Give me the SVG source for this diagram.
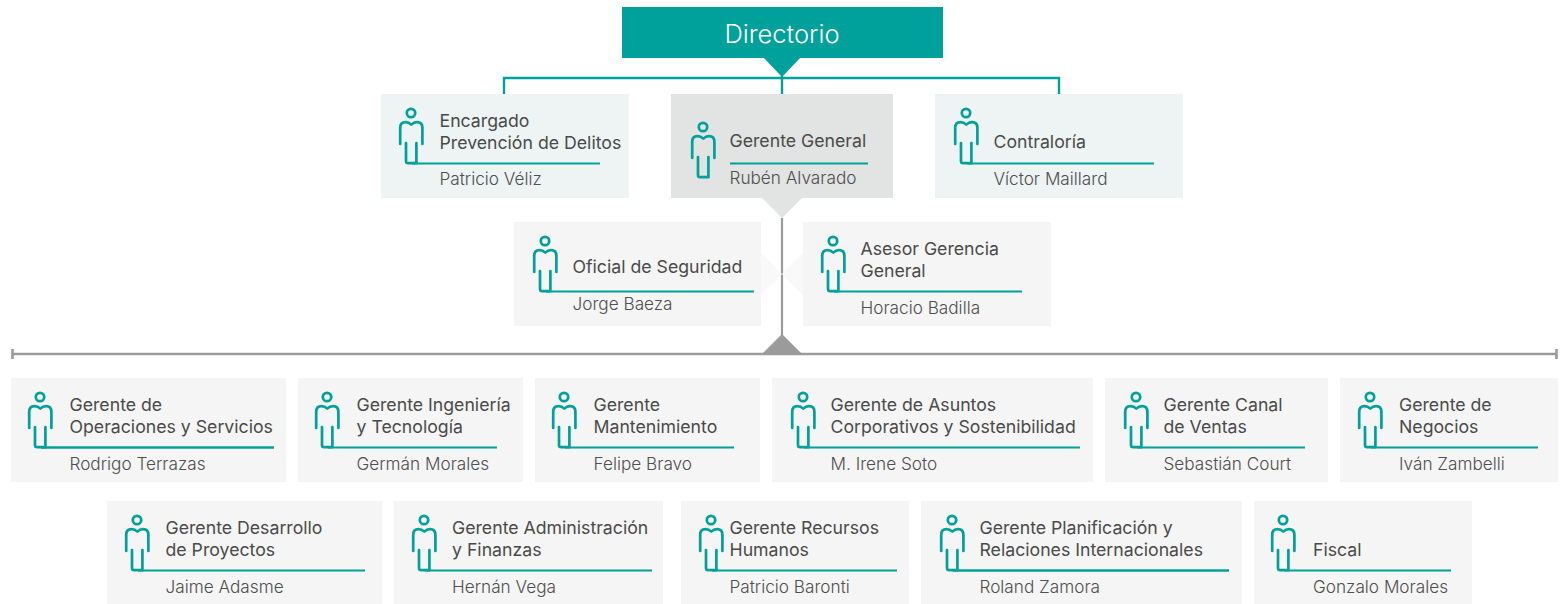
<svg xmlns="http://www.w3.org/2000/svg" xmlns:xlink="http://www.w3.org/1999/xlink" width="1562" height="604" viewBox="0 0 1562 604">
<style>
text{font-family:"Inter","Liberation Sans",Arial,sans-serif;font-size:17.7px;fill:#4a4a4a;font-weight:400}
.name{fill:#4f4f4f;font-size:17.2px;font-weight:300}
.dir{fill:#ffffff;font-size:25.5px;font-weight:300;text-anchor:middle}
.g{fill:#f5f5f5}.t{fill:#edf4f3}.m{fill:#e2e3e3}.f{fill:#f9f9f9}
.rule{stroke:#00a19a;stroke-width:2;fill:none}
.rule2{stroke:#00a19a;stroke-width:2.6;fill:none}
.teal{stroke:#00a19a;stroke-width:2.4;fill:none}
.grey{stroke:#9b9b9b;stroke-width:2.6;fill:none}
.greyv{stroke:#9b9b9b;stroke-width:2.2;fill:none}
.ic{stroke:#00a19a;stroke-width:2.7;fill:none;stroke-linecap:round;stroke-linejoin:round}
</style>
<defs>
<g id="person" class="ic">
<circle cx="0" cy="0" r="4.2"/>
<path d="M-10.8,31 V15 Q-10.8,9.2 -5.5,9.2 Q-2.2,9.2 0.3,11.6 Q2.8,9.2 6,9.2 Q11.4,9.2 11.4,15 V31"/>
<path d="M-5,30 V48 Q-5,50.2 -2.8,50.2 H5.4 V30"/>
</g>
</defs>
<g id="connectors">
<path class="teal" d="M504,94 V78 H1059 V94 M782,76 V94"/>
<path class="greyv" d="M782,218 V336"/>
<path class="grey" d="M12,354 H1557 M12.5,349 V359 M1556.5,349 V359"/>
<polygon fill="#9b9b9b" points="762,354 782,334 802,354"/>
</g>
<g id="directorio">
<rect x="622" y="7" width="321" height="51" fill="#00a19a"/>
<polygon fill="#00a19a" points="763,57 801,57 782,77"/>
<text class="dir" x="782" y="43">Directorio</text>
</g>
<g id="n-encargado"><rect class="t" x="381" y="94" width="248" height="104"/><use xlink:href="#person" x="411" y="113"/><path class="rule" d="M412,163.5H600"/><text x="439.5" y="127">Encargado</text><text x="439.5" y="149">Prevención de Delitos</text><text class="name" x="439.5" y="185">Patricio Véliz</text></g>
<g id="n-gerente-general"><rect class="m" x="671" y="94" width="222" height="104"/><polygon class="m" points="762,198 802,198 782,218"/><use xlink:href="#person" x="703" y="127"/><path class="rule" d="M730,163.5H868"/><text x="729.5" y="147">Gerente General</text><text class="name" x="729.5" y="184">Rubén Alvarado</text></g>
<g id="n-contraloria"><rect class="t" x="935" y="94" width="248" height="104"/><use xlink:href="#person" x="966" y="113"/><path class="rule" d="M967,163.5H1154"/><text x="993.5" y="148">Contraloría</text><text class="name" x="993.5" y="185">Víctor Maillard</text></g>
<g id="n-oficial"><rect class="g" x="514" y="222" width="247" height="104"/><polygon class="f" points="761,253 782,274 761,295"/><use xlink:href="#person" x="545" y="241"/><path class="rule" d="M546,291.5H754"/><text x="572.5" y="273">Oficial de Seguridad</text><text class="name" x="572.5" y="310">Jorge Baeza</text></g>
<g id="n-asesor"><rect class="g" x="803" y="222" width="248" height="104"/><polygon class="f" points="803,253 782,274 803,295"/><use xlink:href="#person" x="833" y="241"/><path class="rule" d="M834,291.5H1022"/><text x="860.5" y="255">Asesor Gerencia</text><text x="860.5" y="277">General</text><text class="name" x="860.5" y="314">Horacio Badilla</text></g>
<g id="n-operaciones"><rect class="g" x="11" y="378" width="275" height="104"/><use xlink:href="#person" x="40" y="397"/><path class="rule2" d="M41,447.5H274"/><text x="69.5" y="411">Gerente de</text><text x="69.5" y="433">Operaciones y Servicios</text><text class="name" x="69.5" y="470">Rodrigo Terrazas</text></g>
<g id="n-ingenieria"><rect class="g" x="298" y="378" width="225" height="104"/><use xlink:href="#person" x="327" y="397"/><path class="rule" d="M328,447.5H497"/><text x="356.5" y="411">Gerente Ingeniería</text><text x="356.5" y="433">y Tecnología</text><text class="name" x="356.5" y="470">Germán Morales</text></g>
<g id="n-mantenimiento"><rect class="g" x="535" y="378" width="225" height="104"/><use xlink:href="#person" x="564" y="397"/><path class="rule" d="M565,447.5H734"/><text x="593.5" y="411">Gerente</text><text x="593.5" y="433">Mantenimiento</text><text class="name" x="593.5" y="470">Felipe Bravo</text></g>
<g id="n-asuntos"><rect class="g" x="772" y="378" width="321" height="104"/><use xlink:href="#person" x="803" y="397"/><path class="rule" d="M804,447.5H1080"/><text x="830.5" y="411">Gerente de Asuntos</text><text x="830.5" y="433">Corporativos y Sostenibilidad</text><text class="name" x="830.5" y="470">M. Irene Soto</text></g>
<g id="n-canal"><rect class="g" x="1105" y="378" width="223" height="104"/><use xlink:href="#person" x="1136" y="397"/><path class="rule" d="M1137,447.5H1305"/><text x="1163.5" y="411">Gerente Canal</text><text x="1163.5" y="433">de Ventas</text><text class="name" x="1163.5" y="470">Sebastián Court</text></g>
<g id="n-negocios"><rect class="g" x="1340" y="378" width="218" height="104"/><use xlink:href="#person" x="1370" y="397"/><path class="rule" d="M1371,447.5H1538"/><text x="1399" y="411">Gerente de</text><text x="1399" y="433">Negocios</text><text class="name" x="1399" y="470">Iván Zambelli</text></g>
<g id="n-desarrollo"><rect class="g" x="107" y="501" width="275" height="103"/><use xlink:href="#person" x="137" y="520"/><path class="rule" d="M138,570.5H365"/><text x="165.5" y="534">Gerente Desarrollo</text><text x="165.5" y="556">de Proyectos</text><text class="name" x="165.5" y="593">Jaime Adasme</text></g>
<g id="n-administracion"><rect class="g" x="394" y="501" width="269" height="103"/><use xlink:href="#person" x="424" y="520"/><path class="rule" d="M425,570.5H652"/><text x="452" y="534">Gerente Administración</text><text x="452" y="556">y Finanzas</text><text class="name" x="452" y="593">Hernán Vega</text></g>
<g id="n-rrhh"><rect class="g" x="681" y="501" width="228" height="103"/><use xlink:href="#person" x="711" y="520"/><path class="rule" d="M712,570.5H897"/><text x="729.5" y="534">Gerente Recursos</text><text x="729.5" y="556">Humanos</text><text class="name" x="729.5" y="593">Patricio Baronti</text></g>
<g id="n-planificacion"><rect class="g" x="921" y="501" width="321" height="103"/><use xlink:href="#person" x="952" y="520"/><path class="rule2" d="M953,570.5H1229"/><text x="979.5" y="534">Gerente Planificación y</text><text x="979.5" y="556">Relaciones Internacionales</text><text class="name" x="979.5" y="593">Roland Zamora</text></g>
<g id="n-fiscal"><rect class="g" x="1254" y="501" width="218" height="103"/><use xlink:href="#person" x="1283" y="520"/><path class="rule" d="M1284,570.5H1451"/><text x="1313" y="556">Fiscal</text><text class="name" x="1313" y="593">Gonzalo Morales</text></g>
</svg>
